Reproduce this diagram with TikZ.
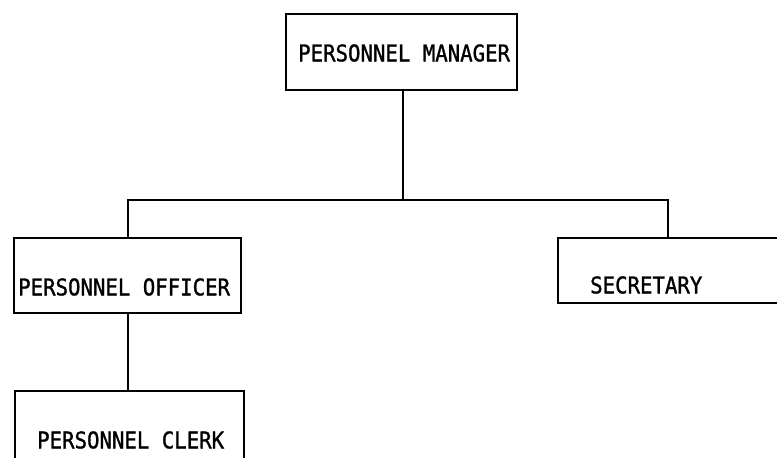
\documentclass[tikz,border=0pt]{standalone}
\usepackage{fontspec}
\newfontfamily\typew[FakeStretch=0.9,FakeBold=1.2]{DejaVu Sans Mono}
\begin{document}
\begin{tikzpicture}[x=1pt,y=-1pt,
  box/.style={draw=black, line width=2.5pt, rectangle, inner sep=0pt},
  lbl/.style={font=\typew\fontsize{23}{23}\selectfont, inner sep=0pt, text=black},
  link/.style={draw=black, line width=2.8pt}]
  \useasboundingbox (0,0) rectangle (777,458);
  \clip (0,0) rectangle (777,458);
  \fill[white] (0,0) rectangle (777,458);

  % boxes
  \node[box, minimum width=231pt, minimum height=76pt] (mgr) at (401.5,52) {};
  \node[box, minimum width=227pt, minimum height=75pt] (off) at (127.5,275.5) {};
  \node[box, minimum width=240pt, minimum height=65pt] (sec) at (678,270.5) {};
  \node[box, minimum width=229pt, minimum height=90pt] (clk) at (129.5,436) {};

  % labels
  \node[lbl, anchor=west] (tmgr) at (298,53) {PERSONNEL MANAGER};
  \node[lbl, anchor=west] (toff) at (18,287) {PERSONNEL OFFICER};
  \node[lbl, anchor=west] (tsec) at (590,285) {SECRETARY};
  \node[lbl, anchor=west] (tclk) at (37,440) {PERSONNEL CLERK};

  % connectors
  \coordinate (split) at (403,200);
  \draw[link] (mgr.south -| split) -- (split);
  \draw[link] (off.north -| 128,0) |- (split) -| (sec.north -| 668,0);
  \draw[link] (off.south -| 128,0) -- (clk.north -| 128,0);
\end{tikzpicture}
\end{document}
